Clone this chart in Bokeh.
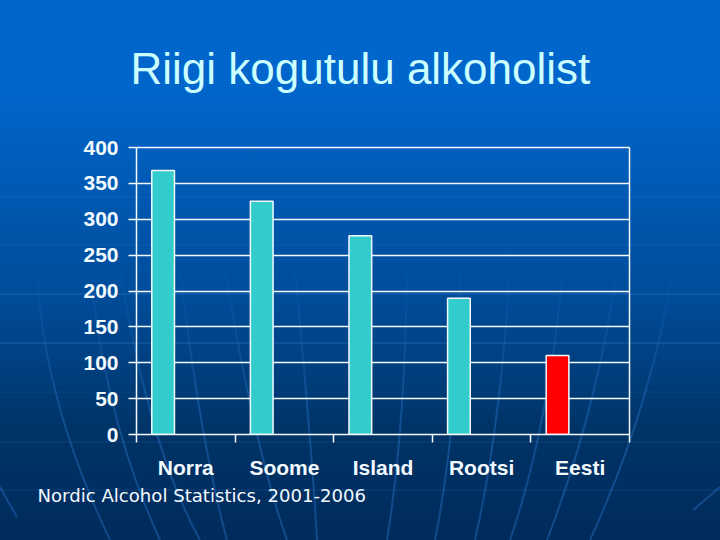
from bokeh.embed import file_html
from bokeh.resources import INLINE
from bokeh.models import (ColumnDataSource, Grid, Range1d, LinearAxis, FixedTicker, Title,
                          GlobalInlineStyleSheet)
from bokeh.plotting import figure
from bokeh.transform import dodge
from urllib.parse import quote

countries = ["Norra", "Soome", "Island", "Rootsi", "Eesti"]
values = [368, 325, 277, 190, 110]
bar_colors = ["#33CCCC", "#33CCCC", "#33CCCC", "#33CCCC", "#FF0000"]
y_ticks = [0, 50, 100, 150, 200, 250, 300, 350, 400]
title_text = "Riigi kogutulu alkoholist"
source_text = "Nordic Alcohol Statistics, 2001-2006"

WHITE = "#F2FAFF"
FONT = "Liberation Sans"

# Slide backdrop: gradient with faint horizontal rules and sweeping curves
curves = [
    "M37 270 Q43 400 110 540", "M90 270 Q105 420 160 540", "M120 270 Q150 450 200 540",
    "M180 270 Q200 440 227 540", "M225 270 Q255 450 287 540", "M295 270 Q312 450 317 540",
    "M0 487 Q10 505 17 517",
    "M407 270 Q405 430 387 540", "M460 270 Q457 430 435 540", "M510 270 Q500 430 475 540",
    "M563 270 Q548 430 510 540", "M617 270 Q597 410 547 540", "M673 270 Q650 410 590 540",
    "M720 487 Q705 500 693 510",
]
rules = [(197, 0.2), (245, 0.2), (294, 0.4), (343, 0.45), (392, 0.15), (442, 0.2), (490, 0.2)]
svg = ("<svg xmlns='http://www.w3.org/2000/svg' width='720' height='540'><defs>"
       "<linearGradient id='fade' gradientUnits='userSpaceOnUse' x1='0' x2='0' y1='270' y2='420'>"
       "<stop offset='0' stop-color='#2E7BD6' stop-opacity='0.05'/>"
       "<stop offset='1' stop-color='#2E7BD6' stop-opacity='0.38'/></linearGradient></defs>")
for d in curves:
    svg += f"<path d='{d}' fill='none' stroke='url(#fade)' stroke-width='2'/>"
for r, o in rules:
    svg += f"<line x1='0' x2='720' y1='{r}' y2='{r}' stroke='#3B86DC' stroke-opacity='{o}'/>"
svg += "</svg>"
page_css = (
    "html{background-color:#002B5C;"
    f"background-image:url(\"data:image/svg+xml,{quote(svg)}\"),"
    "linear-gradient(#0066CC 0%,#0066CC 16%,#004C99 55%,#003366 80%,#002B5C 100%);"
    "background-size:720px 540px;background-repeat:no-repeat;}"
    "body{background:transparent;overflow:hidden;}"
)

n = len(countries)
centers = [i + 0.5 for i in range(n)]
source = ColumnDataSource(dict(center=centers, value=values, color=bar_colors))

# Canvas is 14px taller than the page and lifted by 14px, which leaves room for the title's standoff
p = figure(width=720, height=554, x_range=Range1d(0, n),
           y_range=Range1d(0, 400), output_backend="svg", toolbar_location=None,
           x_axis_location=None, y_axis_location=None,
           min_border_left=136, min_border_right=91, min_border_top=161, min_border_bottom=106,
           background_fill_alpha=0, border_fill_alpha=0, outline_line_color=None)
p.styles = {"transform": "translateY(-14px)"}
p.stylesheets = [GlobalInlineStyleSheet(css=page_css)]

p.vbar(x=dodge("center", -0.23), top="value", bottom=0, width=0.23,
       source=source, fill_color="color", line_color=WHITE, line_width=1.5)

# Boundary ticks between categories
edge_ticks = list(range(n + 1))
edge_axis = LinearAxis(ticker=FixedTicker(ticks=edge_ticks),
                       major_label_overrides={i: "" for i in edge_ticks},
                       axis_line_color=WHITE, axis_line_width=1.5, major_tick_line_color=WHITE,
                       major_tick_line_width=1.5, major_tick_in=0, major_tick_out=8,
                       minor_tick_line_color=None, major_label_standoff=0)
p.add_layout(edge_axis, "below")

cat_axis = LinearAxis(ticker=FixedTicker(ticks=centers),
                      major_label_overrides=dict(zip(centers, countries)),
                      axis_line_color=None, major_tick_line_color=None, minor_tick_line_color=None,
                      major_label_text_color=WHITE, major_label_text_font=FONT,
                      major_label_text_font_style="bold", major_label_text_font_size="21px",
                      major_label_standoff=7)
p.add_layout(cat_axis, "below")

y_axis = LinearAxis(ticker=FixedTicker(ticks=y_ticks), axis_line_color=WHITE, axis_line_width=1.5,
                    major_tick_line_color=WHITE, major_tick_line_width=1.5, major_tick_in=0,
                    major_tick_out=8, minor_tick_line_color=None, major_label_text_color=WHITE,
                    major_label_text_font=FONT, major_label_text_font_style="bold",
                    major_label_text_font_size="21px", major_label_standoff=10)
p.add_layout(y_axis, "left")

p.xgrid.visible = False
p.ygrid.visible = False
p.add_layout(Grid(dimension=1, ticker=FixedTicker(ticks=y_ticks), grid_line_color=WHITE,
                  grid_line_width=1.5, level="underlay"))

# top and right edges of the plot box
for side in ("right", "above"):
    p.add_layout(LinearAxis(ticker=FixedTicker(ticks=[]), axis_line_color=WHITE, axis_line_width=1.5,
                            major_tick_line_color=None, minor_tick_line_color=None), side)

p.add_layout(Title(text=title_text, align="left", offset=-6, standoff=110, text_font=FONT,
                   text_font_size="44px", text_font_style="normal", text_color="#CCFFFF"), "above")
p.add_layout(Title(text=source_text, align="left", offset=-99, standoff=2, text_font="DejaVu Sans",
                   text_font_size="18.1px", text_font_style="normal", text_color=WHITE), "below")

open("out.html", "w").write(file_html(p, INLINE))
